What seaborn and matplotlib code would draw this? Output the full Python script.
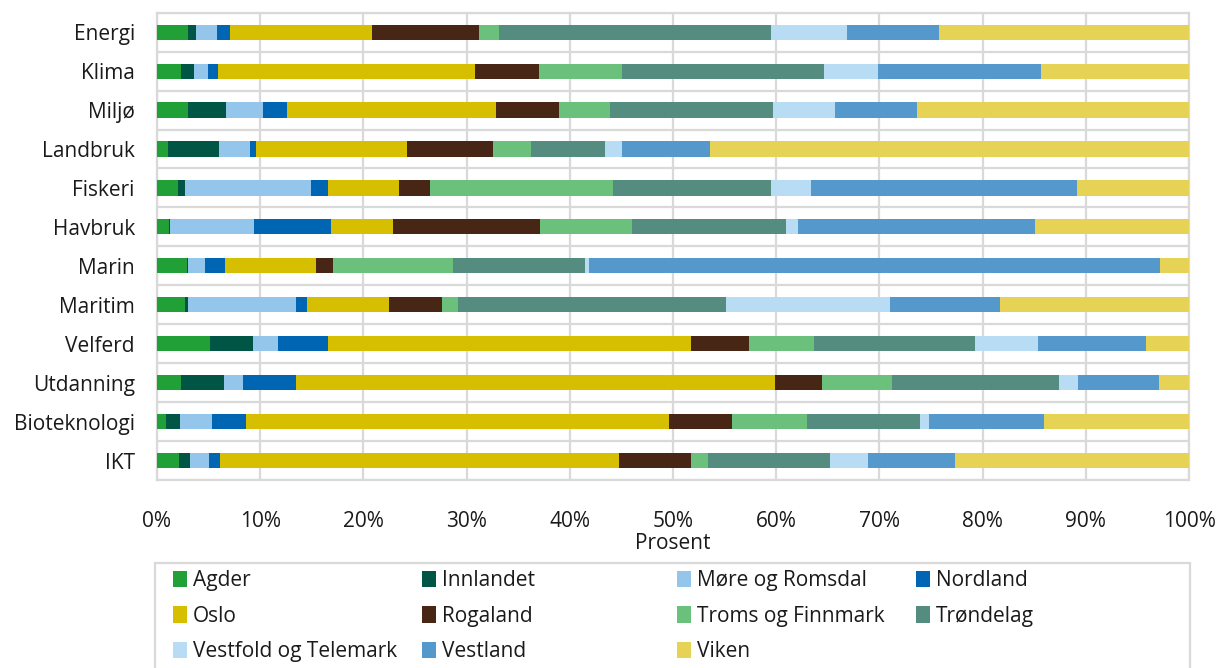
import numpy as np
import pandas as pd
import matplotlib
matplotlib.use("Agg")
import matplotlib.pyplot as plt
import seaborn as sns
from matplotlib.patches import Patch, Rectangle
from matplotlib.ticker import PercentFormatter

# Kategorier (ovenfra og ned)
omraader = ["Energi", "Klima", "Miljø", "Landbruk", "Fiskeri", "Havbruk",
            "Marin", "Maritim", "Velferd", "Utdanning", "Bioteknologi", "IKT"]

# Andel per fylke (prosent), samme rekkefølge som omraader
agder = [3.0, 2.3, 3.0, 1.1, 2.0, 1.2, 2.9, 2.7, 5.1, 2.3, 0.9, 2.1]
innlandet = [0.8, 1.3, 3.7, 4.9, 0.7, 0.1, 0.1, 0.3, 4.2, 4.2, 1.3, 1.1]
more_romsdal = [2.0, 1.3, 3.6, 3.0, 12.2, 8.1, 1.6, 10.5, 2.4, 1.8, 3.1, 1.8]
nordland = [1.3, 1.0, 2.3, 0.6, 1.7, 7.5, 2.0, 1.0, 4.9, 5.2, 3.3, 1.1]
oslo = [13.7, 24.9, 20.3, 14.6, 6.9, 6.0, 8.8, 8.0, 35.2, 46.4, 41.0, 38.7]
rogaland = [10.4, 6.2, 6.1, 8.4, 3.0, 14.3, 1.6, 5.1, 5.6, 4.5, 6.1, 6.9]
troms_finnmark = [1.9, 8.1, 5.0, 3.6, 17.7, 8.9, 11.7, 1.5, 6.3, 6.8, 7.2, 1.7]
trondelag = [26.4, 19.5, 15.8, 7.2, 15.4, 15.0, 12.7, 26.0, 15.6, 16.2, 11.0, 11.8]
vestfold_telemark = [7.4, 5.3, 6.0, 1.7, 3.8, 1.1, 0.4, 15.9, 6.2, 1.8, 0.8, 3.7]
vestland = [8.9, 15.8, 8.0, 8.5, 25.8, 23.0, 55.3, 10.6, 10.4, 7.9, 11.2, 8.4]
viken = [24.2, 14.3, 26.4, 46.4, 10.9, 15.0, 2.8, 18.3, 4.2, 2.9, 14.0, 22.7]

fylker = ["Agder", "Innlandet", "Møre og Romsdal", "Nordland", "Oslo", "Rogaland",
          "Troms og Finnmark", "Trøndelag", "Vestfold og Telemark", "Vestland", "Viken"]
serier = [agder, innlandet, more_romsdal, nordland, oslo, rogaland,
          troms_finnmark, trondelag, vestfold_telemark, vestland, viken]
farger = ["#21a038", "#005544", "#94c6eb", "#0066b3", "#d6bf00", "#472615",
          "#6bc17c", "#558c80", "#b8dcf3", "#5598cc", "#e6d355"]

# Normaliser til 100 % per område
verdier = np.array(serier, dtype=float)
andeler = verdier / verdier.sum(axis=0) * 100
kumulativ = np.cumsum(andeler, axis=0)

sns.set_style("white")
plt.rcParams["font.family"] = ["Open Sans", "DejaVu Sans"]

W, H = 1217, 668
fig = plt.figure(figsize=(W / 100, H / 100), dpi=100)
ax = fig.add_axes([0.129, 0.2814, 0.848, 0.6996])

grid_farge = "#d9d9d9"
tekst_farge = "#1a1a1a"
fs = 15

# Stablede søyler: tegn største kumulative sum først
for j in range(len(fylker) - 1, -1, -1):
    df = pd.DataFrame({"Område": omraader, "Kumulativ": kumulativ[j]})
    sns.barplot(data=df, x="Kumulativ", y="Område", order=omraader,
                color=farger[j], saturation=1, width=0.39, linewidth=0,
                errorbar=None, ax=ax, zorder=3)

ax.set_xlim(0, 100)
ax.set_ylim(len(omraader) - 0.5, -0.5)
ax.set_xticks(np.arange(0, 101, 10))
ax.xaxis.set_major_formatter(PercentFormatter(decimals=0))
ax.set_yticks(np.arange(-0.5, len(omraader), 1), minor=True)

ax.grid(axis="x", which="major", color=grid_farge, linewidth=1.6, zorder=0)
ax.grid(axis="y", which="minor", color=grid_farge, linewidth=1.6, zorder=0)
ax.set_axisbelow(True)
for s in ax.spines.values():
    s.set_color(grid_farge)
    s.set_linewidth(1.6)

ax.tick_params(axis="both", which="both", length=0, labelsize=fs, colors=tekst_farge)
ax.tick_params(axis="x", pad=22)
ax.tick_params(axis="y", pad=16)
ax.set_ylabel("")
ax.set_xlabel("Prosent", fontsize=fs, color=tekst_farge, labelpad=1)

# Tegnforklaring: ramme + fire kolonner med lik bredde
fig.add_artist(Rectangle((155 / W, -0.05), (1190 - 155) / W, 0.05 + 1 - 563 / H,
                         transform=fig.transFigure, fill=False,
                         edgecolor=grid_farge, linewidth=1.6))
handles = [Patch(facecolor=c, edgecolor="none") for c in farger]
kolonner = [[0, 4, 8], [1, 5, 9], [2, 6, 10], [3, 7]]
kol_x = [173, 422, 677, 916]
for idx, x in zip(kolonner, kol_x):
    leg = fig.legend([handles[i] for i in idx], [fylker[i] for i in idx],
                     loc="upper left", bbox_to_anchor=((x - 7.3) / W, 1 - 563 / H),
                     frameon=False, fontsize=fs,
                     handlelength=0.65, handleheight=0.85, handletextpad=0.3,
                     labelspacing=0.69, borderpad=0.35, borderaxespad=0)
    for t in leg.get_texts():
        t.set_color(tekst_farge)

fig.savefig("out.png", dpi=100)
